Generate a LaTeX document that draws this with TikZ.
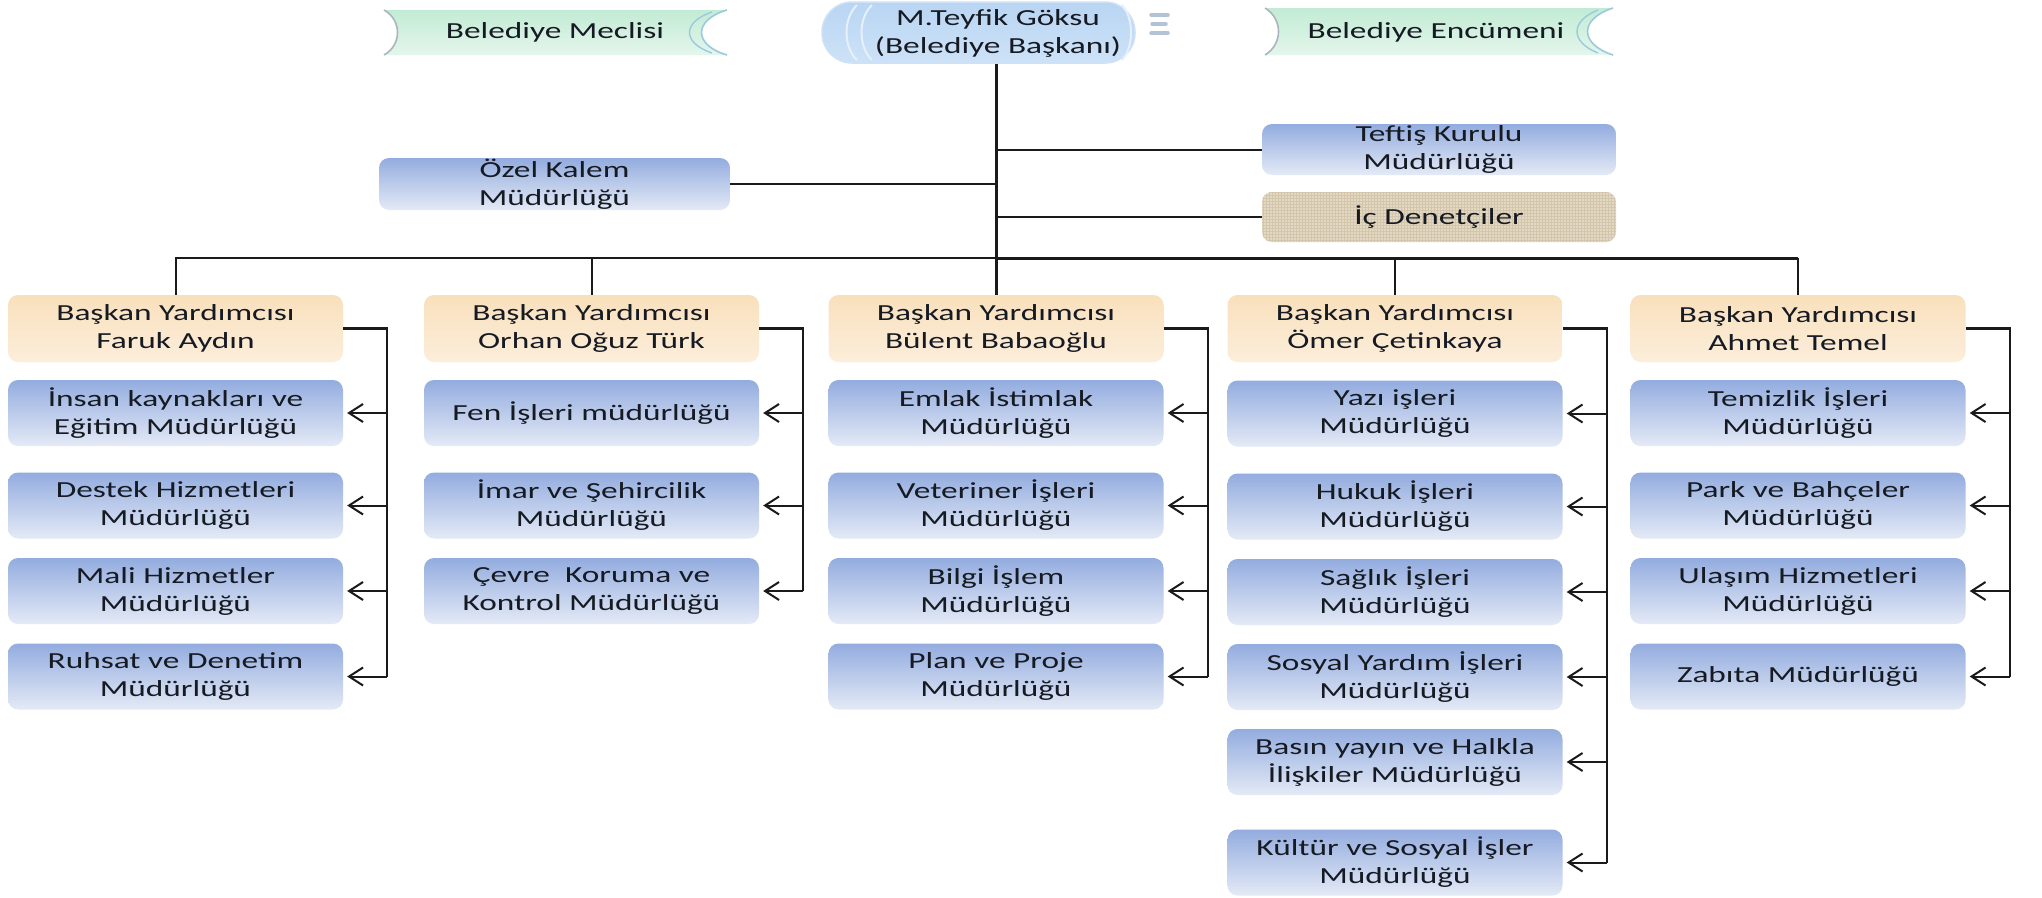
\documentclass[tikz,border=0pt]{standalone}
\usepackage{fontspec}
\setmainfont{Carlito}[FakeStretch=1.45]
\usetikzlibrary{arrows.meta,patterns,calc}
\definecolor{txt}{HTML}{161A22}
\definecolor{blu1}{HTML}{93ACDF}
\definecolor{blu2}{HTML}{E4EAF6}
\definecolor{pch1}{HTML}{F9E0BC}
\definecolor{pch2}{HTML}{FCEEDB}
\definecolor{mint1}{HTML}{C2EBD4}
\definecolor{mint2}{HTML}{E4F6EC}
\definecolor{pill1}{HTML}{B9D5F3}
\definecolor{pill2}{HTML}{CDE2F7}
\definecolor{arcgray}{HTML}{A9B6BE}
\definecolor{arcblue}{HTML}{9CC9DF}
\definecolor{pillarc}{HTML}{E6F0FB}
\definecolor{burlap}{HTML}{E2D8C3}
\definecolor{burlapd}{HTML}{D3C6AB}
\definecolor{iconc}{HTML}{B3C3D6}
\definecolor{lnc}{HTML}{1A1A1A}
\tikzset{
  ln/.style={line width=2pt, draw=lnc},
  thickln/.style={line width=3pt, draw=lnc},
  colln/.style={line width=2.4pt, draw=lnc},
  arr/.style={line width=2pt, draw=lnc, -{Straight Barb[length=14pt,width=18pt,line width=2pt]}, shorten >=4pt},
  bluebox/.style={rounded corners=10pt, minimum width=335pt, minimum height=66pt, top color=blu1, bottom color=blu2, text=txt, align=center, inner sep=0pt},
  vpbox/.style={bluebox, top color=pch1, bottom color=pch2, minimum height=67pt},
  lbl/.style={text=txt, align=center, inner sep=0pt},
}
\begin{document}
\begin{tikzpicture}[x=1pt,y=-1pt,font=\fontsize{23}{28}\selectfont]
\useasboundingbox (0,0) rectangle (2042,897);
\fill[white] (0,0) rectangle (2042,897);

% ---- top banners ----
\shade[top color=mint1, bottom color=mint2] (384,10) .. controls (402,20) and (402,45) .. (384,55) -- (727,55) .. controls (693,45) and (693,20) .. (727,10) -- cycle;
\draw[arcgray, line width=1.6pt] (384,10) .. controls (402,20) and (402,45) .. (384,55);
\draw[arcblue, line width=1.6pt] (727,10) .. controls (693,20) and (693,45) .. (727,55);
\draw[arcblue, line width=1.4pt] (712,12) .. controls (682,22) and (682,43) .. (712,53);
\node[lbl] (meclisi) at (555,32.5) {Belediye Meclisi};

\shade[top color=mint1, bottom color=mint2] (1265,8) .. controls (1283,19) and (1283,44) .. (1265,55) -- (1613,55) .. controls (1579,44) and (1579,19) .. (1613,8) -- cycle;
\draw[arcgray, line width=1.6pt] (1265,8) .. controls (1283,19) and (1283,44) .. (1265,55);
\draw[arcblue, line width=1.6pt] (1613,8) .. controls (1579,19) and (1579,44) .. (1613,55);
\draw[arcblue, line width=1.4pt] (1598,10) .. controls (1570,21) and (1570,42) .. (1598,53);
\node[lbl] (encumeni) at (1436,32) {Belediye Encümeni};

% ---- mayor ----
\node[rounded corners=30pt, minimum width=313pt, minimum height=61pt, top color=pill1, bottom color=pill2, draw=pill2, line width=1.5pt, inner sep=0pt] (mayor) at (978.5,32.5) {};
\draw[pillarc, line width=2pt] (857,5) .. controls (843,18) and (843,47) .. (857,60);
\draw[pillarc, line width=2pt] (872,5) .. controls (858,18) and (858,47) .. (872,60);
\draw[pillarc, line width=2pt] (1122,5) .. controls (1134,18) and (1134,47) .. (1122,60);
\node[lbl] (mayortxt) at (998,33) {M.Teyfik Göksu\\(Belediye Başkanı)};
\draw[iconc, line width=3.5pt, line cap=round] (1151,15) -- (1168,15);
\draw[iconc, line width=3.5pt, line cap=round] (1152,24) -- (1166,24);
\draw[iconc, line width=3.5pt, line cap=round] (1151,33) -- (1168,33);

% ---- staff units ----
\node[bluebox, minimum width=351pt, minimum height=52pt] (ozel) at (554.5,184) {Özel Kalem\\Müdürlüğü};
\node[bluebox, minimum width=354pt, minimum height=51pt] (teftis) at (1439,149.5) {Teftiş Kurulu\\Müdürlüğü};
\node[bluebox, minimum width=354pt, minimum height=50pt, shading=axis, top color=burlap, bottom color=burlap, postaction={pattern=grid, pattern color=burlapd}] (ic) at (1439,217) {İç Denetçiler};

% ---- deputy mayors ----
\node[vpbox] (vp1) at (175.5,328.5) {Başkan Yardımcısı\\Faruk Aydın};
\node[vpbox] (vp2) at (591.5,328.5) {Başkan Yardımcısı\\Orhan Oğuz Türk};
\node[vpbox] (vp3) at (996,328.5) {Başkan Yardımcısı\\Bülent Babaoğlu};
\node[vpbox] (vp4) at (1395,328.5) {Başkan Yardımcısı\\Ömer Çetinkaya};
\node[vpbox] (vp5) at (1798,328.5) {Başkan Yardımcısı\\Ahmet Temel};

% ---- column 1 ----
\node[bluebox] (a1) at (175.5,413) {İnsan kaynakları ve\\Eğitim Müdürlüğü};
\node[bluebox] (a2) at (175.5,505.5) {Destek Hizmetleri\\Müdürlüğü};
\node[bluebox] (a3) at (175.5,591) {Mali Hizmetler\\Müdürlüğü};
\node[bluebox] (a4) at (175.5,676.5) {Ruhsat ve Denetim\\Müdürlüğü};
% ---- column 2 ----
\node[bluebox] (b1) at (591.5,413) {Fen İşleri müdürlüğü};
\node[bluebox] (b2) at (591.5,505.5) {İmar ve Şehircilik\\Müdürlüğü};
\node[bluebox] (b3) at (591.5,591) {Çevre\ \ Koruma ve\\Kontrol Müdürlüğü};
% ---- column 3 ----
\node[bluebox] (c1) at (996,413) {Emlak İstimlak\\Müdürlüğü};
\node[bluebox] (c2) at (996,505.5) {Veteriner İşleri\\Müdürlüğü};
\node[bluebox] (c3) at (996,591) {Bilgi İşlem\\Müdürlüğü};
\node[bluebox] (c4) at (996,676.5) {Plan ve Proje\\Müdürlüğü};
% ---- column 4 ----
\node[bluebox] (d1) at (1395,413.5) {Yazı işleri\\Müdürlüğü};
\node[bluebox] (d2) at (1395,506.5) {Hukuk İşleri\\Müdürlüğü};
\node[bluebox] (d3) at (1395,592) {Sağlık İşleri\\Müdürlüğü};
\node[bluebox] (d4) at (1395,677) {Sosyal Yardım İşleri\\Müdürlüğü};
\node[bluebox] (d5) at (1395,762) {Basın yayın ve Halkla\\İlişkiler Müdürlüğü};
\node[bluebox] (d6) at (1395,862.5) {Kültür ve Sosyal İşler\\Müdürlüğü};
% ---- column 5 ----
\node[bluebox] (e1) at (1798,413) {Temizlik İşleri\\Müdürlüğü};
\node[bluebox] (e2) at (1798,505.5) {Park ve Bahçeler\\Müdürlüğü};
\node[bluebox] (e3) at (1798,591) {Ulaşım Hizmetleri\\Müdürlüğü};
\node[bluebox] (e4) at (1798,676.5) {Zabıta Müdürlüğü};

% ---- trunk and bus ----
\coordinate (bus) at (0,258);
\draw[thickln] (mayor.south -| vp3.north) -- (vp3.north);
\draw[ln] (ozel.east) -- (ozel.east -| vp3.north);
\draw[ln] (teftis.west) -- (teftis.west -| vp3.north);
\draw[ln] (ic.west) -- (ic.west -| vp3.north);
\draw[ln] (vp1.north) -- (vp1.north |- bus) -- (vp3.north |- bus);
\draw[thickln] (vp3.north |- bus) -- (vp5.north |- bus);
\draw[ln] (vp5.north |- bus) -- (vp5.north);
\draw[ln] (vp2.north |- bus) -- (vp2.north);
\draw[ln] (vp4.north |- bus) -- (vp4.north);

% ---- column connectors ----
\coordinate (v1) at ($(vp1.east)+(44,0)$);
\coordinate (v2) at ($(vp2.east)+(44,0)$);
\coordinate (v3) at ($(vp3.east)+(44,0)$);
\coordinate (v4) at ($(vp4.east)+(44,0)$);
\coordinate (v5) at ($(vp5.east)+(44,0)$);
\draw[colln] (vp1.east) -- (v1) -- (v1 |- a4.east);
\draw[colln] (vp2.east) -- (v2) -- (v2 |- b3.east);
\draw[colln] (vp3.east) -- (v3) -- (v3 |- c4.east);
\draw[colln] (vp4.east) -- (v4) -- (v4 |- d6.east);
\draw[colln] (vp5.east) -- (v5) -- (v5 |- e4.east);
\foreach \n in {a1,a2,a3,a4} \draw[arr] (v1 |- \n.east) -- (\n.east);
\foreach \n in {b1,b2,b3} \draw[arr] (v2 |- \n.east) -- (\n.east);
\foreach \n in {c1,c2,c3,c4} \draw[arr] (v3 |- \n.east) -- (\n.east);
\foreach \n in {d1,d2,d3,d4,d5,d6} \draw[arr] (v4 |- \n.east) -- (\n.east);
\foreach \n in {e1,e2,e3,e4} \draw[arr] (v5 |- \n.east) -- (\n.east);
\end{tikzpicture}
\end{document}
